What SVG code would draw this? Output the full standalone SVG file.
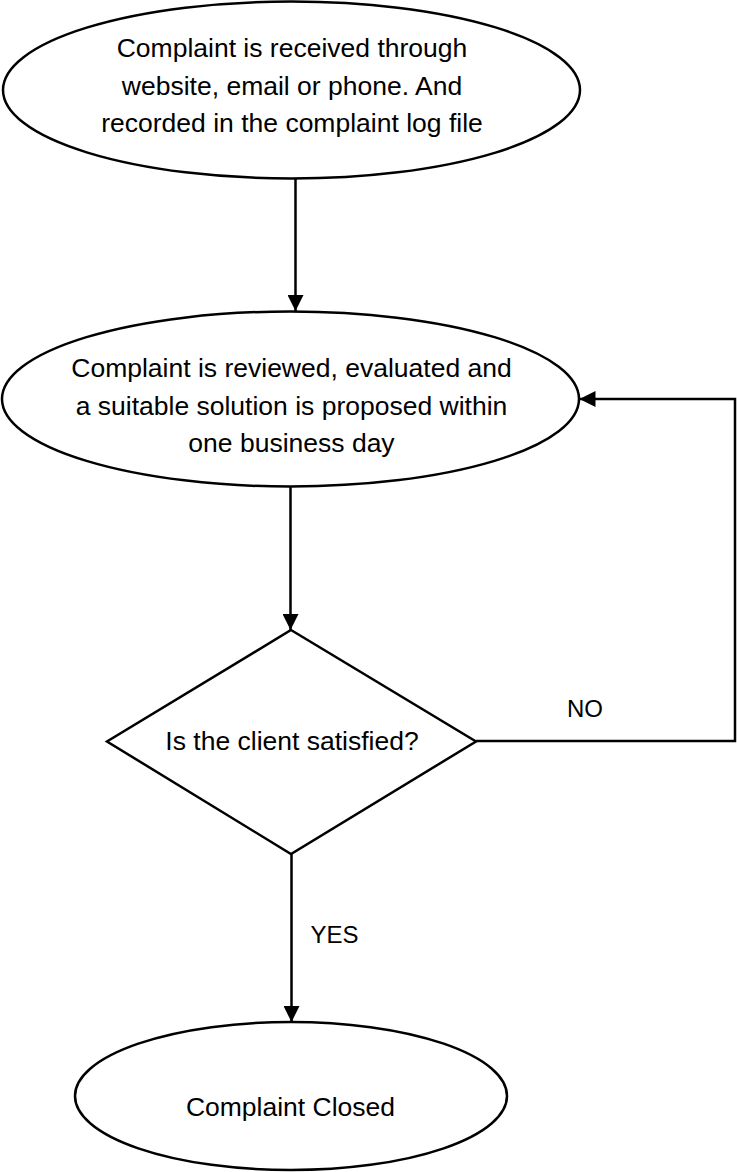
<svg xmlns="http://www.w3.org/2000/svg" width="737" height="1172" viewBox="0 0 737 1172">
<style>
.shape{fill:#fff;stroke:#000;stroke-width:2.5}
.t{font-family:"Liberation Sans",Arial,sans-serif;font-size:26.5px;fill:#000;text-anchor:middle}
.lbl{font-family:"Liberation Sans",Arial,sans-serif;font-size:24px;fill:#000;text-anchor:middle}
.conn{fill:none;stroke:#000;stroke-width:2.5}
</style>
<defs>
<marker id="arr" markerUnits="userSpaceOnUse" markerWidth="16" markerHeight="16" viewBox="0 0 15 15" refX="15" refY="7.5" orient="auto">
<path d="M0,0 L15,7.5 L0,15 z" fill="#000"/>
</marker>
</defs>
<rect width="737" height="1172" fill="#fff"/>
<g id="n1">
<ellipse class="shape" cx="291.5" cy="90" rx="288.5" ry="88.5"/>
<text class="t" x="292" y="57">Complaint is received through</text>
<text class="t" x="292" y="95">website, email or phone. And</text>
<text class="t" x="292" y="132">recorded in the complaint log file</text>
</g>
<g id="n2">
<ellipse class="shape" cx="290.5" cy="399" rx="288.5" ry="87.5"/>
<text class="t" x="291.5" y="377">Complaint is reviewed, evaluated and</text>
<text class="t" x="291.5" y="415">a suitable solution is proposed within</text>
<text class="t" x="291.5" y="452">one business day</text>
</g>
<g id="n3">
<polygon class="shape" points="291,630 476,741.5 291,854 107,741.5"/>
<text class="t" x="292" y="750">Is the client satisfied?</text>
</g>
<g id="n4">
<ellipse class="shape" cx="291" cy="1096" rx="216" ry="74"/>
<text class="t" x="290.5" y="1116">Complaint Closed</text>
</g>
<g id="connectors">
<path class="conn" d="M295.5,179 L295.5,311" marker-end="url(#arr)"/>
<path class="conn" d="M290.5,487 L290.5,630" marker-end="url(#arr)"/>
<path class="conn" d="M476,741 L735,741 L735,399 L579.5,399" marker-end="url(#arr)"/>
<path class="conn" d="M291.5,854 L291.5,1022" marker-end="url(#arr)"/>
<text class="lbl" x="585" y="717">NO</text>
<text class="lbl" x="334.5" y="943">YES</text>
</g>
</svg>
